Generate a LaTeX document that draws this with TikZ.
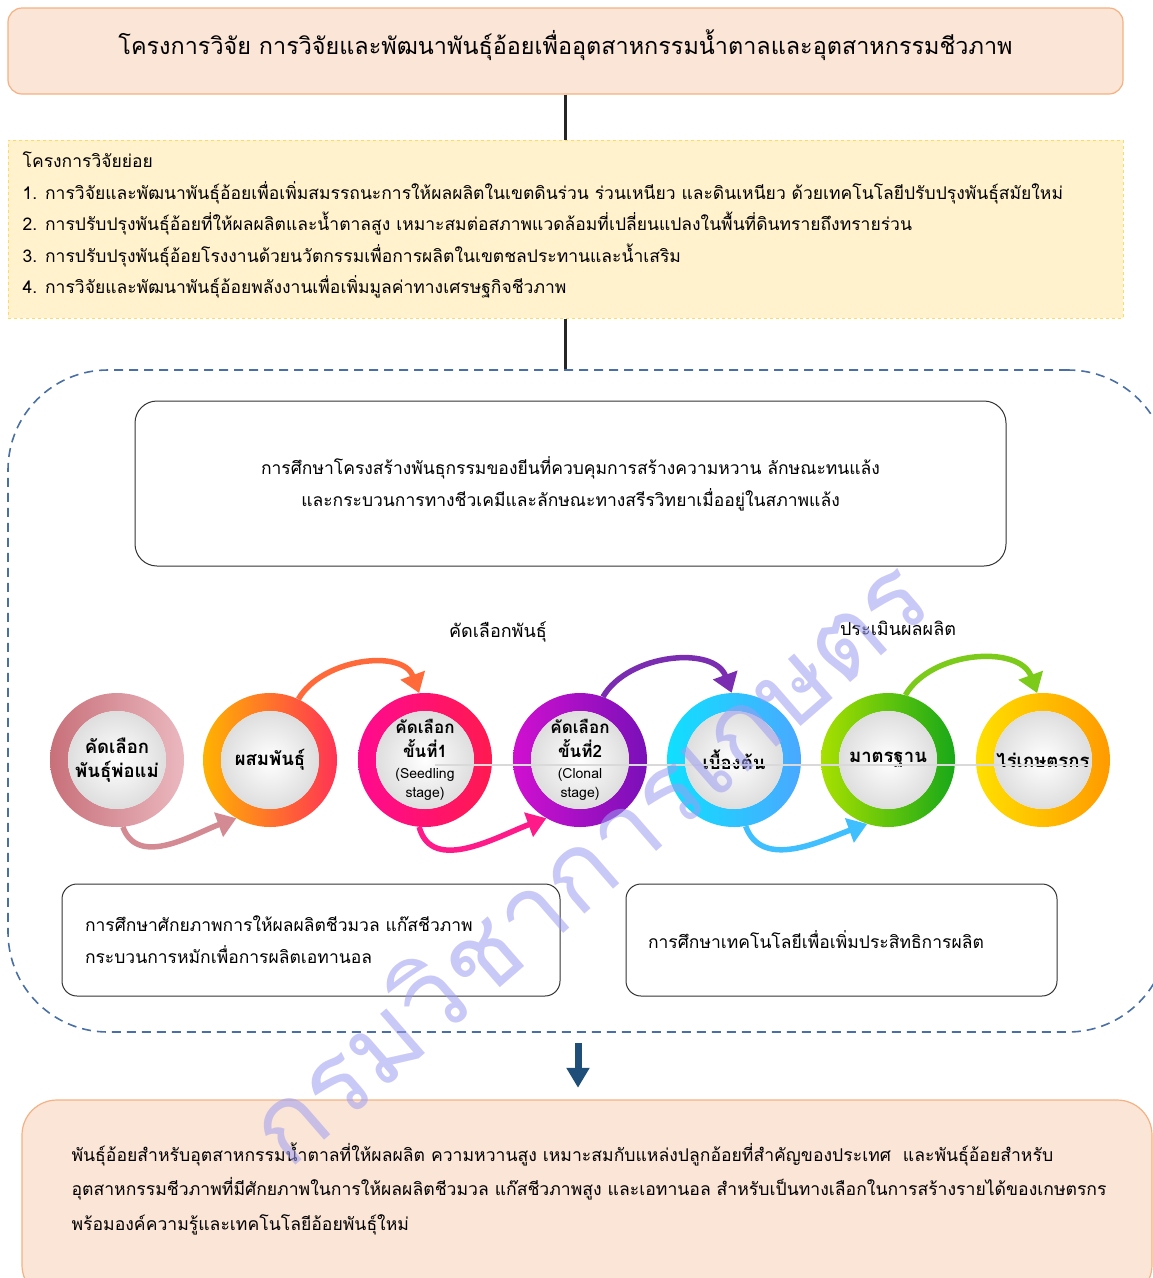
\documentclass[tikz,border=0pt]{standalone}
\usepackage{fontspec}
\setmainfont[Script=Thai]{Loma}
\usetikzlibrary{positioning, arrows.meta, calc}
\definecolor{peach}{HTML}{FBE5D6}
\definecolor{peachline}{HTML}{F4B183}
\definecolor{cream}{HTML}{FFF2CC}
\definecolor{creamline}{HTML}{FFD966}
\definecolor{steel}{HTML}{4A6FA5}
\definecolor{navy}{HTML}{1F4E79}
\definecolor{wmark}{HTML}{9D9DF2}
% ring colours, left / right side
\definecolor{roseL}{HTML}{C8707A}\definecolor{roseR}{HTML}{EBB8BF}
\definecolor{amberL}{HTML}{FFB300}\definecolor{amberR}{HTML}{FF3355}
\definecolor{magL}{HTML}{FF0A90}\definecolor{magR}{HTML}{FF1A50}
\definecolor{purpL}{HTML}{D010D0}\definecolor{purpR}{HTML}{7A10B8}
\definecolor{cyanL}{HTML}{10E0FF}\definecolor{cyanR}{HTML}{4AA8FF}
\definecolor{limeL}{HTML}{A8E000}\definecolor{limeR}{HTML}{18A818}
\definecolor{sunL}{HTML}{FFE000}\definecolor{sunR}{HTML}{FF9A00}
\newcommand{\stagehead}[1]{{\fontsize{17}{24}\selectfont #1}}
\newcommand{\stagetxt}[1]{{\fontsize{14}{18}\selectfont\mdseries #1}}

\begin{document}
\begin{tikzpicture}[x=1pt, y=1pt,
    peachbox/.style={draw=peachline, fill=peach, line width=1.2pt, rounded corners=14pt},
    plainbox/.style={draw=black!80, line width=1pt, rounded corners=22pt},
    stem/.style={line width=2.5pt, black!85},
    flow/.style={line width=5.5pt, -{Triangle[length=19pt, width=25pt]}},
    ringtext/.style={circle, minimum size=134pt, inner sep=0pt, align=center,
                     font=\fontsize{18.5}{24}\selectfont\bfseries}]
  \useasboundingbox (0,0) rectangle (1153,-1278);
  % title
  \node[peachbox, minimum width=1115pt, minimum height=86pt, text depth=18pt,
        font=\fontsize{23.4}{28}\selectfont] (title) at (565.5,-51)
    {โครงการวิจัย การวิจัยและพัฒนาพันธุ์อ้อยเพื่ออุตสาหกรรมน้ำตาลและอุตสาหกรรมชีวภาพ};
  % sub projects
  \node[draw=creamline, fill=cream, dashed, line width=1pt, minimum width=1115pt,
        minimum height=178pt] (sub) at (565.5,-229) {};
  \node[anchor=west, align=left, inner sep=0pt, font=\fontsize{17.5}{31.5}\selectfont]
    (subtext) at ([xshift=15pt, yshift=4pt]sub.west)
    {โครงการวิจัยย่อย\\
     1. การวิจัยและพัฒนาพันธุ์อ้อยเพื่อเพิ่มสมรรถนะการให้ผลผลิตในเขตดินร่วน ร่วนเหนียว และดินเหนียว ด้วยเทคโนโลยีปรับปรุงพันธุ์สมัยใหม่\\
     2. การปรับปรุงพันธุ์อ้อยที่ให้ผลผลิตและน้ำตาลสูง เหมาะสมต่อสภาพแวดล้อมที่เปลี่ยนแปลงในพื้นที่ดินทรายถึงทรายร่วน\\
     3. การปรับปรุงพันธุ์อ้อยโรงงานด้วยนวัตกรรมเพื่อการผลิตในเขตชลประทานและน้ำเสริม\\
     4. การวิจัยและพัฒนาพันธุ์อ้อยพลังงานเพื่อเพิ่มมูลค่าทางเศรษฐกิจชีวภาพ};
  % dashed region
  \node[draw=steel, dash pattern=on 9pt off 6pt, line width=1.6pt, rounded corners=100pt,
        minimum width=1160pt, minimum height=662pt] (region) at (588,-701) {};
  \draw[stem] (title) -- (sub);
  \draw[stem] (sub.south) -- (sub.south |- region.north);
  % genetics box
  \node[plainbox, minimum width=871pt, minimum height=165pt, align=center,
        font=\fontsize{17.5}{32}\selectfont] (genetics) at (570.5,-483.5)
    {การศึกษาโครงสร้างพันธุกรรมของยีนที่ควบคุมการสร้างความหวาน ลักษณะทนแล้ง\\
     และกระบวนการทางชีวเคมีและลักษณะทางสรีรวิทยาเมื่ออยู่ในสภาพแล้ง};
  \node[font=\fontsize{18}{20}\selectfont] (selectlbl) at (498,-632) {คัดเลือกพันธุ์};
  \node[font=\fontsize{18}{20}\selectfont] (evallbl) at (898,-628) {ประเมินผลผลิต};
  % rings
  \foreach \nm/\xx/\lcol/\rcol/\txt in {
      r1/117/roseL/roseR/{คัดเลือก\\พันธุ์พ่อแม่},
      r2/270/amberL/amberR/{ผสมพันธุ์},
      r3/425/magL/magR/{\stagehead{คัดเลือก}\\\stagehead{ขั้นที่1}\\[-3pt]\stagetxt{(Seedling}\\[-5pt]\stagetxt{stage)}},
      r4/580/purpL/purpR/{\stagehead{คัดเลือก}\\\stagehead{ขั้นที่2}\\[-3pt]\stagetxt{(Clonal}\\[-5pt]\stagetxt{stage)}},
      r5/734/cyanL/cyanR/{เบื้องต้น},
      r6/888/limeL/limeR/{มาตรฐาน},
      r7/1043/sunL/sunR/{ไร่เกษตรกร}} {
    \shade[left color=\lcol, right color=\rcol, even odd rule] (\xx,-760) circle (67) circle (49);
    \shade[inner color=white, outer color=black!13] (\xx,-760) circle (49);
    \node[ringtext] (\nm) at (\xx,-760) {\txt};
  }
  \draw[black!15, line width=1.2pt] ([xshift=10pt, yshift=-5pt]r3.center) -- ([xshift=45pt, yshift=-5pt]r7.center);
  % arrows between rings
  \draw[flow, color={rgb,255:red,212;green,138;blue,146}] (r1.-85) to[out=-70, in=200] (r2.-120);
  \draw[flow, color={rgb,255:red,255;green,106;blue,58}] (r2.65) to[out=60, in=110] (r3.95);
  \draw[flow, color={rgb,255:red,255;green,26;blue,138}] (r3.-95) to[out=-75, in=200] (r4.-120);
  \draw[flow, color={rgb,255:red,122;green,45;blue,176}] (r4.70) to[out=60, in=110] (r5.92);
  \draw[flow, color={rgb,255:red,64;green,191;blue,255}] (r5.-80) to[out=-70, in=200] (r6.-108);
  \draw[flow, color={rgb,255:red,124;green,203;blue,26}] (r6.75) to[out=60, in=110] (r7.95);
  % lower boxes
  \node[plainbox, rounded corners=15pt, minimum width=498pt, minimum height=112pt,
        text width=452pt, align=left, font=\fontsize{17.5}{32}\selectfont] (biomass) at (311,-940)
    {การศึกษาศักยภาพการให้ผลผลิตชีวมวล แก๊สชีวภาพ\\
     กระบวนการหมักเพื่อการผลิตเอทานอล};
  \node[plainbox, rounded corners=15pt, minimum width=431pt, minimum height=112pt,
        text width=387pt, align=left, font=\fontsize{17.5}{32}\selectfont] (techbox) at (841.5,-940)
    {การศึกษาเทคโนโลยีเพื่อเพิ่มประสิทธิการผลิต};
  % result
  \draw[navy, line width=7pt, -{Triangle[length=20pt, width=22pt]}]
    ([shift={(-10,-10)}]region.south) -- ++(0,-45);
  \node[peachbox, rounded corners=35pt, minimum width=1130pt, minimum height=200pt] (result) at (587,-1200) {};
  \node[anchor=north west, align=left, inner sep=0pt, font=\fontsize{17.6}{34.5}\selectfont]
    (resulttext) at ([shift={(50,-43)}]result.north west)
    {พันธุ์อ้อยสำหรับอุตสาหกรรมน้ำตาลที่ให้ผลผลิต ความหวานสูง เหมาะสมกับแหล่งปลูกอ้อยที่สำคัญของประเทศ \ และพันธุ์อ้อยสำหรับ\\
     อุตสาหกรรมชีวภาพที่มีศักยภาพในการให้ผลผลิตชีวมวล แก๊สชีวภาพสูง และเอทานอล สำหรับเป็นทางเลือกในการสร้างรายได้ของเกษตรกร\\
     พร้อมองค์ความรู้และเทคโนโลยีอ้อยพันธุ์ใหม่};
  % watermark
  \node[rotate=41, text=wmark, opacity=.55, font=\fontsize{106}{106}\selectfont] (wm) at (585,-858) {กรมวิชาการเกษตร};
\end{tikzpicture}
\end{document}
